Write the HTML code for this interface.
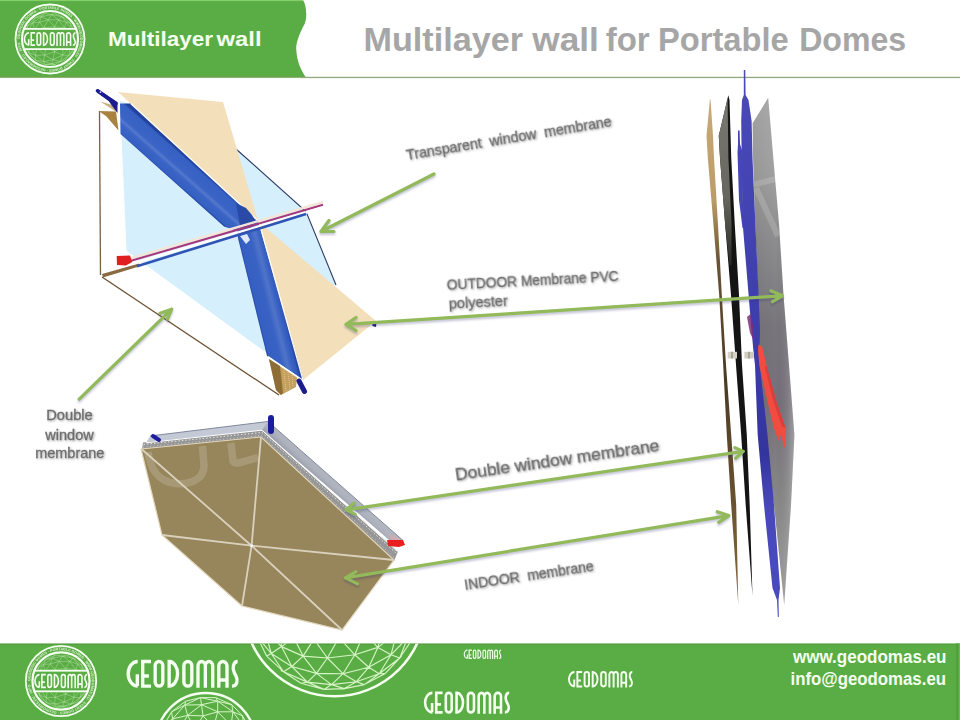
<!DOCTYPE html>
<html><head><meta charset="utf-8"><title>Multilayer wall for Portable Domes</title>
<style>
html,body{margin:0;padding:0;background:#fff;width:960px;height:720px;overflow:hidden}
svg{display:block;font-family:"Liberation Sans",sans-serif}
.lbl{fill:#6e6e6e;stroke:#6e6e6e;stroke-width:0.3;filter:drop-shadow(1px 1.5px 1px rgba(0,0,0,0.35))}
.arr{stroke:#92b95a;stroke-width:3.2;fill:none;stroke-linecap:round;stroke-linejoin:round;filter:drop-shadow(0.5px 2.5px 1.2px rgba(40,40,110,0.28))}
</style></head>
<body>
<svg width="960" height="720" viewBox="0 0 960 720">
<defs>
  <!-- GEODOMAS art-deco wordmark, cap height 100 units, width ~401 -->
  <g id="geo" fill="none" stroke="#f4fff0" stroke-width="12">
    <path d="M40,6 A34,44 0 0 0 40,94 M38.6,52 V94"/>
    <path d="M57.8,0 V100 M51.8,6 H87.5 M51.8,94 H87.5 M51.8,58 H80"/>
    <rect x="102.4" y="6" width="27.3" height="88" rx="13.65"/>
    <path d="M152.4,0 V100 M152.4,6 A30,44 0 0 1 152.4,94"/>
    <rect x="204.9" y="6" width="28.4" height="88" rx="14.2"/>
    <path d="M255.3,100 V22 A13.15,16 0 0 1 281.6,22 V100 M281.6,22 A13.15,16 0 0 1 307.9,22 V100"/>
    <path d="M329.6,100 V22 A14.7,16 0 0 1 359,22 V100 M329.6,72 H359"/>
    <path d="M397,6 C381,6 377,30 385,46 L391,58 C399,74 395,94 377,94"/>
  </g>
  <clipPath id="brownclip"><polygon points="141,449 261,437 394,560 342,630 242,606 162,535"/></clipPath>
  <clipPath id="grayclip"><polygon points="768.2,97.8 752.6,123.3 753.1,160 755.3,225 758,295 756.5,340 757.5,370 760,402 764,435 768,470 774,505 784.2,605 791,505 794.4,435 789,365 783.5,295 779.1,225 773.5,160"/></clipPath>
  <clipPath id="badgeclip"><rect x="-30" y="-30" width="60" height="19"/><rect x="-30" y="11" width="60" height="19"/></clipPath>
  <!-- logo badge, centered at 0,0 radius 35 -->
  <g id="badge">
    <circle r="34.5" fill="none" stroke="#f4fff0" stroke-width="1.8"/>
    <path id="ringp" d="M-30.2,0 A30.2,30.2 0 1 1 30.2,0 A30.2,30.2 0 1 1 -30.2,0" fill="none"/>
    <text font-size="3.6" fill="#f0fae8" font-weight="bold" opacity="0.85"><textPath href="#ringp" textLength="186" lengthAdjust="spacingAndGlyphs">GEODESIC DOMES &#183; PORTABLE DOMES &#183; WWW.GEODOMAS.EU &#183; EVENT DOMES &#183; GEODOMAS.EU &#183; INFO</textPath></text>
    <circle r="28" fill="none" stroke="#f4fff0" stroke-width="2.2"/>
    <path d="M20.2,8.5L24.5,0.5M18.8,16.4L23.7,9.0M15.0,21.2L18.8,16.4M-10.5,-16.7L-1.8,-19.2M-5.5,16.0L-3.6,6.7M-14.5,16.4L-14.4,21.2M-21.3,13.3L-20.0,16.2M23.7,9.0L24.5,0.5M-19.6,9.0L-14.5,16.4M-22.6,-7.0L-15.6,-9.3M-10.5,-16.7L-8.7,-22.3M-1.8,-19.2L1.8,-24.4M20.2,8.5L18.8,16.4M10.3,22.5L15.0,21.2M-13.1,8.5L-10.5,-1.4M-21.3,13.3L-14.4,21.2M-10.5,-1.4L-3.6,6.7M-22.6,-7.0L-19.1,0.5M3.1,20.7L10.3,22.5M-25.7,-3.4L-22.6,-7.0M-8.7,-22.3L-5.2,-25.5M21.6,-9.3L24.5,0.5M10.2,-3.1L18.9,-1.4M10.2,-3.1L13.0,6.7M16.3,-16.7L21.6,-9.3M-6.4,22.5L3.1,20.7M-13.1,8.5L-3.6,6.7M-17.2,-16.2L-15.6,-9.3M14.5,-11.2L21.6,-9.3M4.5,12.8L13.0,6.7M-22.6,-7.0L-17.2,-16.2M13.0,6.7L12.7,16.0M-8.7,-22.3L-1.8,-19.2M-3.6,6.7L-0.1,-3.1M-1.8,-19.2L4.6,-12.2M8.5,-19.2L16.3,-16.7M-5.5,16.0L-6.4,22.5M10.2,-3.1L14.5,-11.2M18.9,-1.4L20.2,8.5M11.9,-22.3L14.4,-21.2M-14.5,16.4L-5.5,16.0M1.5,24.8L5.2,25.5M23.7,9.0L22.2,13.3M5.1,4.2L4.5,12.8M-19.1,0.5L-15.6,-9.3M-25.7,-3.4L-24.2,3.4M16.3,-16.7L20.0,-16.2M24.5,0.5L25.0,-7.0M-6.1,-11.2L4.6,-12.2M5.1,4.2L10.2,-3.1M-5.1,25.5L1.5,24.8M-15.0,-21.2L-5.2,-25.5M-24.2,3.4L-22.6,-7.0M-15.6,-9.3L-10.5,-1.4M20.0,-16.2L25.0,-7.0M-10.5,-1.4L-6.1,-11.2M3.1,20.7L1.5,24.8M-10.5,-1.4L-0.1,-3.1M11.9,-22.3L16.3,-16.7M8.5,-19.2L11.9,-22.3M-24.2,3.4L-25.0,7.0M21.6,-9.3L25.0,-7.0M-6.1,-11.2L-0.1,-3.1M-20.0,16.2L-14.4,21.2M-15.6,-9.3L-6.1,-11.2M-25.7,-3.4L-22.2,-13.3M-19.6,9.0L-13.1,8.5M-25.7,-3.4L-25.0,7.0M-22.2,-13.3L-17.2,-16.2M20.2,8.5L23.7,9.0M-15.0,-21.2L-8.7,-22.3M-17.2,-16.2L-8.7,-22.3M18.9,-1.4L21.6,-9.3M1.8,-24.4L8.5,-19.2M-6.1,-11.2L-1.8,-19.2M-17.2,-16.2L-15.0,-21.2M4.5,12.8L3.1,20.7M8.5,-19.2L14.5,-11.2M-6.4,22.5L-5.1,25.5M-21.3,13.3L-14.5,16.4M5.1,4.2L13.0,6.7M-0.1,-3.1L5.1,4.2M-8.7,-22.3L1.8,-24.4M4.6,-12.2L10.2,-3.1M3.1,20.7L12.7,16.0M1.8,-24.4L5.1,-25.5M-5.1,25.5L5.2,25.5M12.7,16.0L20.2,8.5M4.5,12.8L12.7,16.0M13.0,6.7L20.2,8.5M5.1,-25.5L11.9,-22.3M-14.4,21.2L-5.1,25.5M-1.8,-19.2L8.5,-19.2M1.8,-24.4L11.9,-22.3M-22.2,-13.3L-15.0,-21.2M-19.1,0.5L-19.6,9.0M-24.2,3.4L-19.1,0.5M-5.2,-25.5L1.8,-24.4M10.3,22.5L12.7,16.0M-19.1,0.5L-10.5,-1.4M-17.2,-16.2L-10.5,-16.7M-0.1,-3.1L10.2,-3.1M-14.4,21.2L-6.4,22.5M18.9,-1.4L24.5,0.5M-21.3,13.3L-19.6,9.0M12.7,16.0L18.8,16.4M-14.5,16.4L-6.4,22.5M1.5,24.8L10.3,22.5M-15.6,-9.3L-10.5,-16.7M-6.4,22.5L1.5,24.8M14.5,-11.2L18.9,-1.4M18.8,16.4L22.2,13.3M-5.5,16.0L3.1,20.7M13.0,6.7L18.9,-1.4M-3.6,6.7L5.1,4.2M11.9,-22.3L20.0,-16.2M23.7,9.0L25.7,3.4M-24.2,3.4L-21.3,13.3M-25.0,7.0L-21.3,13.3M20.0,-16.2L21.6,-9.3M-22.6,-7.0L-22.2,-13.3M24.5,0.5L25.7,3.4M-19.1,0.5L-13.1,8.5M-3.6,6.7L4.5,12.8M10.3,22.5L18.8,16.4M-13.1,8.5L-14.5,16.4M5.2,25.5L10.3,22.5M14.5,-11.2L16.3,-16.7M-10.5,-16.7L-6.1,-11.2M-24.2,3.4L-19.6,9.0M-0.1,-3.1L4.6,-12.2M4.6,-12.2L14.5,-11.2M4.6,-12.2L8.5,-19.2M-5.5,16.0L4.5,12.8M-13.1,8.5L-5.5,16.0" stroke="#cfeec0" stroke-width="0.45" fill="none" opacity="0.85" clip-path="url(#badgeclip)"/>
    <rect x="-26" y="-11" width="52" height="1.8" fill="#f4fff0"/>
    <rect x="-26" y="9.2" width="52" height="1.8" fill="#f4fff0"/>
    <use href="#geo" transform="translate(-26.3,-7) scale(0.1305,0.14)" />
  </g>
  <clipPath id="footclip"><rect x="0" y="643.5" width="955.8" height="76.5"/></clipPath>
  <linearGradient id="grayp" x1="0" x2="1" y1="0" y2="0">
    <stop offset="0" stop-color="#a8a8a8"/><stop offset="0.6" stop-color="#8e8e8e"/><stop offset="1" stop-color="#7a7a7a"/>
  </linearGradient>
  <linearGradient id="bandA" gradientUnits="userSpaceOnUse" x1="170" y1="178.2" x2="188.5" y2="157.2">
    <stop offset="0" stop-color="#2446a4"/><stop offset="0.05" stop-color="#3560c2"/><stop offset="0.3" stop-color="#3a64c6"/><stop offset="0.4" stop-color="#5478cc"/><stop offset="0.5" stop-color="#3a64c6"/><stop offset="0.88" stop-color="#3660c2"/><stop offset="0.95" stop-color="#22429e"/><stop offset="1" stop-color="#22429e"/>
  </linearGradient>
  <linearGradient id="bandB" gradientUnits="userSpaceOnUse" x1="253.2" y1="300" x2="279.5" y2="293.5">
    <stop offset="0" stop-color="#2446a4"/><stop offset="0.06" stop-color="#3560c2"/><stop offset="0.45" stop-color="#3862c4"/><stop offset="0.65" stop-color="#5074c8"/><stop offset="0.82" stop-color="#3862c4"/><stop offset="0.94" stop-color="#3358bc"/><stop offset="1" stop-color="#2446a4"/>
  </linearGradient>
  <linearGradient id="grayv" gradientUnits="userSpaceOnUse" x1="0" y1="98" x2="0" y2="605">
    <stop offset="0" stop-color="#ababab"/><stop offset="0.15" stop-color="#a0a0a0"/><stop offset="0.3" stop-color="#8a8a8c"/><stop offset="0.45" stop-color="#78767c"/><stop offset="0.6" stop-color="#76707a"/><stop offset="0.78" stop-color="#868686"/><stop offset="1" stop-color="#a0a0a0"/>
  </linearGradient>
  <linearGradient id="grayh" gradientUnits="userSpaceOnUse" x1="752" y1="0" x2="795" y2="0">
    <stop offset="0" stop-color="#000" stop-opacity="0.06"/><stop offset="0.55" stop-color="#000" stop-opacity="0"/><stop offset="0.85" stop-color="#fff" stop-opacity="0.1"/><stop offset="1" stop-color="#fff" stop-opacity="0.3"/>
  </linearGradient>
  <linearGradient id="goldv" gradientUnits="userSpaceOnUse" x1="0" y1="99" x2="0" y2="605">
    <stop offset="0" stop-color="#c8aa78"/><stop offset="0.2" stop-color="#bc9c66"/><stop offset="0.32" stop-color="#6a5434"/><stop offset="0.55" stop-color="#4a3a24"/><stop offset="0.8" stop-color="#6a5230"/><stop offset="1" stop-color="#8a6a40"/>
  </linearGradient>
  <linearGradient id="darkv" gradientUnits="userSpaceOnUse" x1="0" y1="97" x2="0" y2="265">
    <stop offset="0" stop-color="#7a7a74"/><stop offset="0.6" stop-color="#66665e"/><stop offset="1" stop-color="#2a2a28"/>
  </linearGradient>
  <linearGradient id="bluev" gradientUnits="userSpaceOnUse" x1="0" y1="70" x2="0" y2="617">
    <stop offset="0" stop-color="#4a4ab8"/><stop offset="0.5" stop-color="#3c3cac"/><stop offset="0.7" stop-color="#34349e"/><stop offset="0.8" stop-color="#4848bc"/><stop offset="1" stop-color="#4a4ac0"/>
  </linearGradient>
  <linearGradient id="silv" gradientUnits="userSpaceOnUse" x1="343.5" y1="482" x2="333.8" y2="492.7">
    <stop offset="0" stop-color="#8c909c"/><stop offset="0.25" stop-color="#b2b6c1"/><stop offset="0.7" stop-color="#aeb2bd"/><stop offset="1" stop-color="#a0a4b0"/>
  </linearGradient>
  <linearGradient id="bandg" x1="0" x2="1" y1="0" y2="0">
    <stop offset="0" stop-color="#2f57b8"/><stop offset="0.5" stop-color="#4a74d0"/><stop offset="1" stop-color="#2f57b8"/>
  </linearGradient>
</defs>

<!-- ============ HEADER ============ -->
<path d="M0,0 H303 C307,6 307.5,20 303.5,26 C300,33 295.5,43 296.3,50 C297,62 301,70 306,77.6 H0 Z" fill="#5aad44"/>
<rect x="0" y="75.8" width="300" height="1.8" fill="#6ba34c"/>
<rect x="0" y="0" width="303" height="1.1" fill="#84d068"/>
<rect x="300" y="76.8" width="660" height="1.3" fill="#94a67c"/>
<use href="#badge" transform="translate(50,39)"/>
<g font-size="21" font-weight="bold" fill="#f4fff0">
<text x="108" y="45.8" textLength="105" lengthAdjust="spacingAndGlyphs">Multilayer</text>
<text x="216.5" y="45.8" textLength="45" lengthAdjust="spacingAndGlyphs">wall</text>
</g>
<g font-size="33" font-weight="bold" fill="#a6a6a6">
<text x="363.5" y="50.5" textLength="159.5" lengthAdjust="spacingAndGlyphs">Multilayer</text>
<text x="532.3" y="50.5" textLength="66.5" lengthAdjust="spacingAndGlyphs">wall</text>
<text x="605.7" y="50.5" textLength="44" lengthAdjust="spacingAndGlyphs">for</text>
<text x="658" y="50.5" textLength="130.7" lengthAdjust="spacingAndGlyphs">Portable</text>
<text x="799.2" y="50.5" textLength="107" lengthAdjust="spacingAndGlyphs">Domes</text>
</g>

<!-- ============ TOP-LEFT ILLUSTRATION ============ -->
<g>
  <!-- frame -->
  <line x1="99.5" y1="111" x2="100.5" y2="275" stroke="#7a6040" stroke-width="1.3"/>
  <line x1="102" y1="277" x2="279" y2="395" stroke="#6a5030" stroke-width="1.3"/>
  <polygon points="98.5,111 116,111.5 118.5,130.5 106,116" fill="#a98240"/>
  <polygon points="100.3,101.5 116,106 117,112.3 104,104" fill="#c8b080"/>
  <polygon points="102,274 139,263.5 139,266.5 103,277.5" fill="#8a6a40"/>
  <!-- light blue panel -->
  <polygon points="119.5,100 230,143 306,211.5 336,285 303,380 126,251" fill="#d5f0fc" stroke="#ffffff" stroke-width="1"/>
  <polyline points="236,149 306,211.5 336,285" fill="none" stroke="#2a3a6a" stroke-width="1.1"/>
  <!-- beige triangles -->
  <polygon points="118,92 223,102 258,220" fill="#f3e0bb"/>
  <polygon points="259,222 376,321 303,380" fill="#f3e0bb"/>
  <!-- blue band -->
  <polygon points="120,103.5 130.7,103.5 258,221 240,232 224,226.5 120.5,134" fill="url(#bandA)"/>
  <polygon points="236.5,232 258,221 303.5,380 267,356" fill="url(#bandB)"/>
  <line x1="130.7" y1="103.5" x2="258" y2="221" stroke="#fff" stroke-width="1.2"/>
  <line x1="259" y1="222" x2="303" y2="380" stroke="#fff" stroke-width="1.2"/>
  <line x1="268" y1="356.5" x2="303" y2="380.5" stroke="#fff" stroke-width="1.2"/>
  <!-- joint details -->
  <polygon points="236,203 246,208 252,215 256,222 250,230 240,226" fill="#2a4aa8"/>
  <polygon points="240,236 246,244 250,240 247,234" fill="#dfe8f8"/>
  <polygon points="230,238 236,243 238,236" fill="#dfe8f8"/>
  <!-- cross bar -->
  <line x1="131" y1="258.2" x2="323" y2="202.2" stroke="#f5e4d8" stroke-width="2.4"/>
  <line x1="131" y1="260.8" x2="323" y2="204.8" stroke="#a8387c" stroke-width="2"/>
  <line x1="133" y1="263.4" x2="323" y2="207.6" stroke="#ffffff" stroke-width="2.6"/>
  <line x1="137" y1="266.2" x2="306" y2="214" stroke="#3054b4" stroke-width="2.6"/>
  <!-- tabs -->
  <polygon points="116.7,256 130,255.6 132.2,262 126,265.6 117,265" fill="#e02020"/>
  <path d="M97.5,90.8 L116,103.5" stroke="#1c1c8e" stroke-width="3.6" stroke-linecap="round"/>
  <polygon points="97.5,89 117.5,102.3 117.5,113 112,105.7 108.7,101 97,92.5" fill="#1c1c8e"/>
  <circle cx="100.5" cy="92.2" r="0.9" fill="#c8c8ff"/>
  <polygon points="269,359 297,377.5 296,387 281,395 276,390" fill="#c4a05e"/>
  <polygon points="269,359 280,366 283,393 281,395 276,390" fill="#8e6c36"/>
  <path d="M284,370 L286,391 M288,372 L290,389 M292,375 L293,387" stroke="#e8d0a0" stroke-width="0.8" stroke-dasharray="1 1"/>
  <path d="M299,381 L304.5,391.5" stroke="#1c1c8e" stroke-width="5" stroke-linecap="round"/>
  <polygon points="372,322 376.5,322 376,327 372.5,326" fill="#1c1c8e"/>
</g>

<!-- ============ BOTTOM-LEFT ILLUSTRATION ============ -->
<g>
  <!-- silver frame -->
  <polygon points="150,436 268,421.5 264,431 146,443" fill="#c3c9d5"/>
  <polygon points="268,421.5 403,540.5 396,546 262,430" fill="url(#silv)"/>
  <polyline points="150,436 268,421.5 403,540.5" fill="none" stroke="#80889a" stroke-width="1"/>
  <polygon points="388,533 403,540.5 398,546 392,542" fill="#d8a8b0" opacity="0.7"/>
  <!-- honeycomb -->
  <polygon points="143,442.5 262,430.5 398,551.5 394,561 261,437.5 142,449" fill="#969696"/>
  <polyline points="143.5,444.5 262,432.5 396.5,553.5" fill="none" stroke="#e8e8e8" stroke-width="1" stroke-dasharray="1.5 2"/>
  <polyline points="143,447 261.5,435.5 395,558" fill="none" stroke="#d0d0d0" stroke-width="0.9" stroke-dasharray="1 2.5"/>
  <polyline points="146,442.8 262,430.2 397.5,551.5" fill="none" stroke="#ffffff" stroke-width="1"/>
  <!-- brown panel -->
  <polygon points="141,449 261,437 394,560 342,630 242,606 162,535" fill="#97855b" stroke="#e2d6bb" stroke-width="1.2"/>
  <g clip-path="url(#brownclip)" fill="none" stroke="#ffffff" stroke-opacity="0.17" stroke-width="7.5" stroke-linecap="butt">
    <path d="M148,452 C150,468 158,482 176,483.5 C192,485 204,478 204,466 L202.5,446"/>
    <path d="M231,443 L233,461 C234,463 236,463.5 240,462.5 L258,457.5"/>
  </g>
  <path d="M251.6,545.7 L141.5,449 M251.6,545.7 L261,437 M251.6,545.7 L394,560 M251.6,545.7 L342,630 M251.6,545.7 L242,606 M251.6,545.7 L162,535" stroke="#d9d1bc" stroke-width="1.8" fill="none"/>
  <circle cx="251.6" cy="545.7" r="1.6" fill="#eef0ee"/>
  <!-- tabs -->
  <path d="M153,436 L159,440" stroke="#1c1c9e" stroke-width="4" stroke-linecap="round"/>
  <path d="M271,418 L271,431" stroke="#1c1c9e" stroke-width="6" stroke-linecap="round"/>
  <polygon points="387,540 403,540 405,545 399,547 388,546" fill="#e82020"/>
</g>

<!-- ============ RIGHT ILLUSTRATION ============ -->
<g>
  <polygon points="768.2,97.8 752.6,123.3 753.1,160 755.3,225 758,295 756.5,340 757.5,370 760,402 764,435 768,470 774,505 784.2,605 791,505 794.4,435 789,365 783.5,295 779.1,225 773.5,160" fill="url(#grayv)"/>
  <polygon points="768.2,97.8 752.6,123.3 753.1,160 755.3,225 758,295 756.5,340 757.5,370 760,402 764,435 768,470 774,505 784.2,605 791,505 794.4,435 789,365 783.5,295 779.1,225 773.5,160" fill="url(#grayh)"/>
  <g clip-path="url(#grayclip)" fill="none" stroke="#ffffff" stroke-opacity="0.16" stroke-width="6">
    <path d="M752,185 L776,179 M756,188 L778,236"/>
  </g>
  <polygon points="709.9,99.4 706.5,135.8 707.8,158 713.5,225 719.2,295 723.2,365 726.8,435 731.2,505 738.3,605 736.2,505 731.2,435 726,365 721.8,295 718,225 714,158 713,135.8 710.5,99.4" fill="url(#goldv)"/>
  <polygon points="728.3,95.2 718.75,135.8 720,158 725.2,225 731,295 736,365 741.2,435 745.7,505 752.5,596 749.7,505 746.8,435 742,365 739,295 734.8,225 731.25,158 729.5,100" fill="#141414"/>
  <polygon points="728,97 718.75,135.8 720,158 725.2,225 729.5,265 731.5,265 731.6,225 728.4,158 727.6,100" fill="url(#darkv)"/>
  <polygon points="738,130.6 739.6,130.6 740,144 742.7,152.5 742.8,200 744.5,228 742.5,228 739,200 737.5,152.5 738,144" fill="#4646b6"/>
  <polygon points="743.8,70 745.3,70 745.6,95 748.5,100 751.6,121 752.6,160 755.4,225 758.6,295 760,330 759.5,348 759.8,365 767.5,435 774,505 780,588 778.5,600 778.8,617 777.8,617 777,600 772.5,588 764,505 757.7,435 755,365 753.8,355 751.5,330 748.6,295 742.8,225 741.7,160 741.2,121 742,100 743.8,95" fill="url(#bluev)"/>
  <polygon points="747,317 750.5,314 754,328 754,341 750,333" fill="#7a2e78" opacity="0.85"/>
  <polygon points="758.5,344.4 762,346 766.7,366 776.6,402 785.6,427.5 785,447.3 783.6,447.3 781.2,434 778.5,441 773.9,427.5 767.6,402 759.4,366 758,350" fill="#f24c40"/>
  <polygon points="766.7,366 776.6,402 785.6,427.5 782,427 773,400 764.5,366" fill="#c83838" opacity="0.6"/>
  <rect x="727.7" y="351.8" width="9.3" height="6.7" fill="#d6d2c6"/>
  <rect x="744.4" y="351.8" width="9.4" height="6.7" fill="#d0ccc0"/>
  <rect x="731" y="351.8" width="2" height="6.7" fill="#a8a498"/>
  <rect x="748" y="351.8" width="2" height="6.7" fill="#a8a498"/>
</g>

<!-- ============ LABELS ============ -->
<text class="lbl" font-size="15" transform="translate(407,160) rotate(-9.4)" textLength="208" lengthAdjust="spacingAndGlyphs" xml:space="preserve">Transparent  window  membrane</text>
<g class="lbl" font-size="15" transform="translate(447,289.8) rotate(-3)">
  <text x="0" y="0" textLength="172" lengthAdjust="spacingAndGlyphs">OUTDOOR Membrane PVC</text>
  <text x="1" y="18.6" textLength="59" lengthAdjust="spacingAndGlyphs">polyester</text>
</g>
<text class="lbl" font-size="17.4" transform="translate(456,480.5) rotate(-8.3)" textLength="206" lengthAdjust="spacingAndGlyphs">Double window membrane</text>
<text class="lbl" font-size="14.5" transform="translate(465,589.8) rotate(-8.4)" textLength="130.5" lengthAdjust="spacingAndGlyphs" xml:space="preserve">INDOOR  membrane</text>
<g class="lbl" font-size="14" text-anchor="middle">
  <text x="69.5" y="420.4" textLength="46.5" lengthAdjust="spacingAndGlyphs">Double</text>
  <text x="69.5" y="439.6" textLength="48.5" lengthAdjust="spacingAndGlyphs">window</text>
  <text x="69.8" y="458.4" textLength="69" lengthAdjust="spacingAndGlyphs">membrane</text>
</g>

<!-- ============ ARROWS ============ -->
<g class="arr">
  <path d="M434,174 L321,231.5 M329,220.5 L321,231.5 L334,231.5"/>
  <path d="M346,324.4 L782.5,295.8 M356,317.5 L346,324.4 L356,330.6 M770.8,290.8 L782.5,295.8 L772.5,301.7"/>
  <path d="M346,509.8 L743.3,451.4 M354.4,503 L346,509.8 L355.2,514.4 M734.9,447.6 L743.3,451.4 L735.6,458.3"/>
  <path d="M345.3,577.8 L728.8,515.6 M356,571.7 L345.3,577.8 L357.5,583.9 M717.3,511.7 L728.8,515.6 L718.8,522.4"/>
  <path d="M79.2,399.2 L171.7,309.2 M160,313.3 L171.7,309.2 L167.5,319.2"/>
</g>

<!-- ============ FOOTER ============ -->
<rect x="0" y="643.5" width="960" height="76.5" fill="#5aad44"/>
<rect x="0" y="643.8" width="960" height="1.2" fill="#559d41"/>
<rect x="955.8" y="643.5" width="3" height="76.5" fill="#52a03e"/>
<rect x="958.8" y="643.5" width="1.2" height="76.5" fill="#68bc4e"/>
<g clip-path="url(#footclip)">
  <path d="M407.8,637.5L399.7,658.0M294.0,637.9L303.1,656.1M303.1,656.1L291.8,666.5M368.7,667.3L379.2,673.7M271.2,653.5L266.6,656.1M313.9,639.0L303.1,656.1M331.5,684.6L344.4,688.6M327.4,658.0L339.0,637.5M316.5,673.4L331.5,684.6M265.1,630.7L271.2,653.5M300.9,683.3L324.0,689.4M283.5,671.7L280.7,670.4M343.0,673.7L368.7,667.3M354.8,654.8L368.7,667.3M399.7,658.0L412.5,639.0M291.8,666.5L316.5,673.4M377.9,647.4L396.6,633.1M354.8,654.8L363.7,633.1M291.8,666.5L283.5,671.7M271.2,653.5L283.5,671.7M396.6,633.1L391.0,654.8M256.8,635.9L271.2,653.5M391.0,654.8L399.7,658.0M356.4,681.7L364.3,684.6M354.8,654.8L343.0,673.7M265.1,630.7L281.5,646.6M377.9,647.4L391.0,654.8M379.2,673.7L399.7,658.0M281.5,646.6L294.0,637.9M307.4,682.1L300.9,683.3M344.4,688.6L364.3,684.6M339.0,637.5L354.8,654.8M344.4,688.6L344.3,689.4M291.8,666.5L307.4,682.1M324.0,689.4L344.4,688.6M364.3,684.6L385.3,673.4M364.3,684.6L379.2,673.7M382.7,627.5L377.9,647.4M343.0,673.7L356.4,681.7M356.4,681.7L379.2,673.7M316.5,673.4L307.4,682.1M356.4,681.7L344.4,688.6M399.7,658.0L401.7,656.1M327.4,658.0L316.5,673.4M313.9,639.0L327.4,658.0M303.1,656.1L316.5,673.4M266.6,656.1L283.5,671.7M331.5,684.6L356.4,681.7M391.0,654.8L379.2,673.7M368.7,667.3L356.4,681.7M283.5,671.7L307.4,682.1M307.4,682.1L324.0,689.4M281.5,646.6L303.1,656.1M379.2,673.7L385.3,673.4M256.8,635.9L266.6,656.1M327.4,658.0L354.8,654.8M391.0,654.8L407.8,637.5M354.8,654.8L377.9,647.4M271.2,653.5L291.8,666.5M316.5,673.4L343.0,673.7M331.5,684.6L324.0,689.4M343.0,673.7L331.5,684.6M278.9,623.6L281.5,646.6M368.7,667.3L391.0,654.8M307.4,682.1L331.5,684.6M363.7,633.1L377.9,647.4M385.3,673.4L399.7,658.0M281.5,646.6L271.2,653.5M283.5,671.7L300.9,683.3M377.9,647.4L368.7,667.3M281.5,646.6L291.8,666.5M303.1,656.1L327.4,658.0M327.4,658.0L343.0,673.7" stroke="#d4f4c4" stroke-width="1.15" fill="none"/>
  <circle cx="334.5" cy="605.3" r="91" fill="none" stroke="#f4fff0" stroke-width="2.6"/>
  <path d="M203.0,715.9L217.7,711.8M203.0,715.9L201.5,704.7M217.7,711.8L217.7,701.2M201.5,704.7L200.5,697.6M242.5,715.9L250.1,729.1M187.6,715.4L195.1,729.1M177.8,731.6L187.6,715.4M172.6,718.9L171.6,711.8M201.5,704.7L217.7,711.8M184.8,705.1L185.6,701.2M217.7,711.8L231.1,725.4M232.9,711.8L242.5,715.9M242.5,715.9L242.5,715.4M184.8,705.1L200.5,697.6M231.9,704.7L242.5,715.9M232.9,711.8L231.9,704.7M165.2,736.2L172.6,718.9M172.6,718.9L187.6,715.4M184.8,705.1L201.5,704.7M187.6,715.4L201.5,704.7M217.7,701.2L232.9,711.8M213.7,726.9L217.7,711.8M187.6,715.4L184.8,705.1M232.9,711.8L244.1,726.9M171.6,711.8L185.6,701.2M171.6,711.8L184.8,705.1M201.5,704.7L217.7,701.2M217.7,701.2L215.7,697.6M215.7,697.6L231.9,704.7M185.6,701.2L200.5,697.6M217.7,711.8L232.9,711.8M217.7,701.2L231.9,704.7M172.6,718.9L184.8,705.1M200.5,697.6L217.7,701.2M187.6,715.4L203.0,715.9M164.0,725.2L171.6,711.8M200.5,697.6L215.7,697.6M195.1,729.1L203.0,715.9M200.5,697.6L200.4,697.4M177.8,731.6L172.6,718.9M244.1,726.9L242.5,715.9M172.6,718.9L164.0,725.2M203.0,715.9L213.7,726.9M231.1,725.4L232.9,711.8" stroke="#d4f4c4" stroke-width="1" fill="none"/>
  <circle cx="205.8" cy="743" r="50" fill="none" stroke="#f4fff0" stroke-width="2.4"/>
</g>
<use href="#badge" transform="translate(61,681) scale(1.02)"/>
<use href="#geo" transform="translate(126.5,659.8) scale(0.28)"/>
<use href="#geo" transform="translate(463.7,649.5) scale(0.094)"/>
<use href="#geo" transform="translate(568,671) scale(0.162,0.164)"/>
<use href="#geo" transform="translate(423.8,691.5) scale(0.215,0.222)"/>
<text x="793" y="663" font-size="18" font-weight="bold" fill="#f4fff0" textLength="153.5" lengthAdjust="spacingAndGlyphs">www.geodomas.eu</text>
<text x="790.5" y="685.3" font-size="18" font-weight="bold" fill="#f4fff0" textLength="155.5" lengthAdjust="spacingAndGlyphs">info@geodomas.eu</text>
</svg>
</body></html>
